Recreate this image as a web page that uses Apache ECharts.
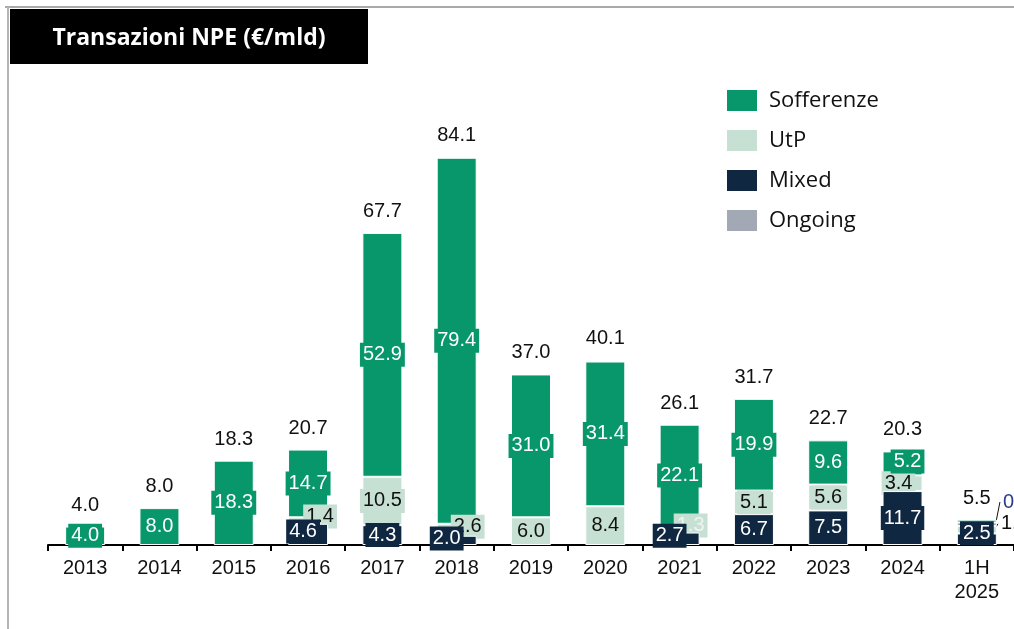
<!DOCTYPE html>
<html lang="it">
<head>
    <meta charset="UTF-8">
    <title>Transazioni NPE</title>
    <style>
        html, body { margin: 0; padding: 0; background: #fff; }
        #main { width: 1014px; height: 629px; }
    </style>
    <script src="https://cdn.jsdelivr.net/npm/echarts@6/dist/echarts.min.js"></script>
</head>
<body>
<div id="main"></div>
<script>
    // dati (€/mld)
    const categories = ['2013', '2014', '2015', '2016', '2017', '2018', '2019', '2020', '2021', '2022', '2023', '2024', '1H\n2025']
    const sofferenze = [4.0, 8.0, 18.3, 14.7, 52.9, 79.4, 31.0, 31.4, 22.1, 19.9, 9.6, 5.2, 0.6]
    const utp = [null, null, null, 1.4, 10.5, 2.6, 6.0, 8.4, 1.3, 5.1, 5.6, 3.4, 1.6]
    const mixed = [null, null, null, 4.6, 4.3, 2.0, null, null, 2.7, 6.7, 7.5, 11.7, 2.5]
    const ongoing = [null, null, null, null, null, null, null, null, null, null, null, null, 0.8]
    const totals = [4.0, 8.0, 18.3, 20.7, 67.7, 84.1, 37.0, 40.1, 26.1, 31.7, 22.7, 20.3, 5.5]

    const colors = {
        Sofferenze: '#08976a',
        UtP: '#c6e0d3',
        Mixed: '#0f2741',
        Ongoing: '#a2a8b4'
    }
    const numFont = '"Liberation Sans", Arial, sans-serif'

    // spostamenti delle etichette che si sovrappongono [dx, dy]
    const shifts = {
        Mixed: {3: [-5, -3], 5: [-10, -2], 8: [-10, -3], 12: [0, -6]},
        UtP: {3: [12, -4], 5: [11, -3], 8: [11, -4], 11: [-4, 0], 12: [38, -6]},
        Sofferenze: {11: [5, -2], 12: [40, -19]}
    }

    function makeBar(name, data, textColor, z) {
        return {
            name,
            type: 'bar',
            stack: 'npe',
            data,
            barWidth: 40,
            z,
            itemStyle: {color: colors[name], borderColor: '#fff', borderWidth: 1},
            label: {
                show: name !== 'Ongoing',
                position: 'inside',
                formatter: p => p.value == null ? '' : p.value.toFixed(1),
                color: textColor,
                fontFamily: numFont,
                fontSize: 20,
                backgroundColor: colors[name],
                padding: [3, 3, 1, 3]
            },
            labelLine: {show: false, lineStyle: {color: '#111', width: 1}},
            labelLayout: p => {
                const s = (shifts[name] || {})[p.dataIndex]
                return s ? {dx: s[0], dy: s[1]} : {}
            }
        }
    }

    const mixedSeries = makeBar('Mixed', mixed, '#fff', 4)
    const utpSeries = makeBar('UtP', utp, '#111', 2)
    const ongoingSeries = makeBar('Ongoing', ongoing, '#111', 2)
    const soffSeries = makeBar('Sofferenze', sofferenze, '#fff', 2)

    // 2021: testo chiaro su UtP
    utpSeries.data = utp.map((v, i) => i === 8 ? {value: v, label: {color: '#eef5f1'}} : v)
    // 1H 2025: etichette esterne con linea di richiamo
    utpSeries.data[12] = {value: utp[12], label: {backgroundColor: 'transparent', color: '#111'}, labelLine: {show: true}}
    soffSeries.data = sofferenze.map((v, i) => i === 12
        ? {value: v, label: {backgroundColor: 'transparent', color: '#2a3d8c'}, labelLine: {show: true}}
        : v)

    const chart = echarts.init(document.getElementById('main'))
    chart.setOption({
        animation: false,
        grid: {left: 48, right: 0, top: 84, bottom: 84},
        legend: {
            data: ['Sofferenze', 'UtP', 'Mixed', 'Ongoing'],
            orient: 'vertical',
            left: 725,
            top: 88,
            padding: 0,
            itemWidth: 32,
            itemHeight: 23,
            itemGap: 15,
            icon: 'rect',
            selectedMode: false,
            textStyle: {
                fontFamily: '"Open Sans", sans-serif', fontSize: 22, lineHeight: 23,
                color: '#111', padding: [0, 0, 0, 6]
            }
        },
        xAxis: {
            type: 'category',
            data: categories,
            axisLine: {lineStyle: {color: '#000', width: 2}},
            axisTick: {show: true, length: 6, lineStyle: {color: '#000', width: 2}},
            axisLabel: {color: '#111', fontFamily: numFont, fontSize: 20, margin: 11, lineHeight: 24, interval: 0}
        },
        yAxis: {type: 'value', min: 0, max: 100, show: false, splitLine: {show: false}},
        series: [
            mixedSeries,
            utpSeries,
            ongoingSeries,
            soffSeries,
            {
                name: 'Totale',
                type: 'scatter',
                data: totals,
                symbolSize: 1,
                itemStyle: {color: 'transparent', opacity: 1},
                label: {
                    show: true,
                    position: 'top',
                    distance: 11,
                    formatter: p => p.value.toFixed(1),
                    color: '#111',
                    fontFamily: numFont,
                    fontSize: 20
                },
                z: 5
            }
        ],
        graphic: [
            {type: 'line', shape: {x1: 5, y1: 7, x2: 1014, y2: 7}, style: {stroke: '#a9a9a9', lineWidth: 2}},
            {type: 'line', shape: {x1: 8, y1: 7, x2: 8, y2: 629}, style: {stroke: '#b5b5b5', lineWidth: 2}},
            {type: 'rect', shape: {x: 10, y: 9, width: 358, height: 55}, style: {fill: '#000'}},
            {
                type: 'text', x: 189, y: 38,
                style: {
                    text: 'Transazioni NPE (€/mld)', fill: '#fff',
                    font: 'bold 23px "Open Sans", sans-serif',
                    textAlign: 'center', textVerticalAlign: 'middle'
                }
            }
        ]
    })
</script>
</body>
</html>
